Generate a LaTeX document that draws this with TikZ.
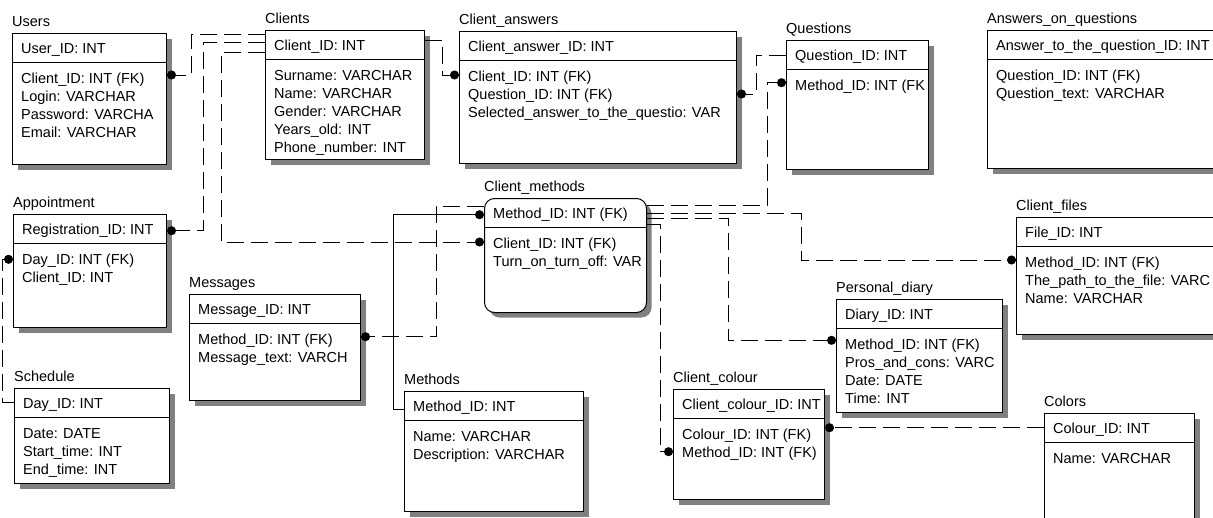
\documentclass[tikz,border=0pt]{standalone}
\usepackage{fontspec}
\setmainfont{Liberation Sans}
\usetikzlibrary{calc,arrows.meta,shadows}

\newcommand\erfont{\fontsize{14.5}{18}\selectfont}

\tikzset{
  ebox/.style={draw=black, line width=1pt, fill=white, inner sep=0pt, anchor=north west,
    general shadow={fill=black!50, shadow xshift=5pt, shadow yshift=-5pt}},
  eboxr/.style={ebox, rounded corners=10pt},
  etitle/.style={anchor=base west, inner sep=0pt, font=\erfont},
  erow/.style={anchor=base west, inner sep=0pt, font=\erfont},
  rel/.style={line width=0.9pt, dash pattern=on 17pt off 7pt},
  idrel/.style={line width=0.9pt},
  dot/.style={-{Circle[length=9pt,width=9pt]}},
}

% #1 box style, #2 node name, #3 entity title, #4,#5 top-left corner,
% #6,#7 bottom-right corner, #8 key attribute, #9 list of other attributes
\newcommand\erentity[9]{%
  \node[#1, minimum width={(#6)-(#4)}, minimum height={(#7)-(#5)}] (#2) at (#4,#5) {};
  \node[etitle] (#2-title) at (#4,#5-6.25) {#3};
  \draw[line width=1pt] ($(#2.north west)+(0,29.5)$) -- ($(#2.north east)+(0,29.5)$);
  \begin{scope}
    \clip (#4,#5) rectangle (#6-2,#7);
    \node[erow] (#2-key) at (#4+9,#5+20) {#8};
    \foreach \rowtext [count=\k] in {#9} {
      \node[erow] (#2-r\k) at (#4+9,#5+50.25+18*\k-18) {\rowtext};
    }
  \end{scope}
}

\begin{document}
\begin{tikzpicture}[x=1pt,y=-1pt]
\useasboundingbox (0,0) rectangle (1213,517);
\clip (0,0) rectangle (1213,517);

% entities
\erentity{ebox}{users}{Users}{12}{33}{166}{164}{User\_ID: INT}
  {Client\_ID: INT (FK), Login: VARCHAR, Password: VARCHA, Email: VARCHAR}
\erentity{ebox}{clients}{Clients}{265}{30}{424}{159}{Client\_ID: INT}
  {Surname: VARCHAR, Name: VARCHAR, Gender: VARCHAR, Years\_old: INT, Phone\_number: INT}
\erentity{ebox}{canswers}{Client\_answers}{459}{31}{736}{163}{Client\_answer\_ID: INT}
  {Client\_ID: INT (FK), Question\_ID: INT (FK), Selected\_answer\_to\_the\_questio: VAR}
\erentity{ebox}{questions}{Questions}{786}{40}{928}{169}{Question\_ID: INT}
  {Method\_ID: INT (FK}
\erentity{ebox}{answersq}{Answers\_on\_questions}{987}{30}{1225}{168}{Answer\_to\_the\_question\_ID: INT}
  {Question\_ID: INT (FK), Question\_text: VARCHAR}
\erentity{ebox}{appointment}{Appointment}{13}{214}{166}{327}{Registration\_ID: INT}
  {Day\_ID: INT (FK), Client\_ID: INT}
\erentity{ebox}{schedule}{Schedule}{14}{388}{169}{483}{Day\_ID: INT}
  {Date: DATE, Start\_time: INT, End\_time: INT}
\erentity{ebox}{messages}{Messages}{189}{294}{360}{400}{Message\_ID: INT}
  {Method\_ID: INT (FK), Message\_text: VARCH}
\erentity{ebox}{methods}{Methods}{404}{391}{583}{511}{Method\_ID: INT}
  {Name: VARCHAR, Description: VARCHAR}
\erentity{eboxr}{cmethods}{Client\_methods}{484}{198}{646}{312}{Method\_ID: INT (FK)}
  {Client\_ID: INT (FK), Turn\_on\_turn\_off: VAR}
\erentity{ebox}{ccolour}{Client\_colour}{673}{389}{824}{499}{Client\_colour\_ID: INT}
  {Colour\_ID: INT (FK), Method\_ID: INT (FK)}
\erentity{ebox}{pdiary}{Personal\_diary}{836}{299}{1002}{412}{Diary\_ID: INT}
  {Method\_ID: INT (FK), Pros\_and\_cons: VARC, Date: DATE, Time: INT}
\erentity{ebox}{cfiles}{Client\_files}{1016}{217}{1225}{334}{File\_ID: INT}
  {Method\_ID: INT (FK), The\_path\_to\_the\_file: VARC, Name: VARCHAR}
\erentity{ebox}{colors}{Colors}{1044}{413}{1194}{535}{Colour\_ID: INT}
  {Name: VARCHAR}

% relationships
\draw[rel,dot] ($(clients.north west)+(0,4)$) -- ++(-74,0) |- ($(users.north east)+(0,42)$);
\draw[rel,dot] ($(clients.north west)+(0,12)$) -- ++(-62,0) |- ($(appointment.north east)+(0,16.7)$);
\draw[rel,dot] ($(clients.north west)+(0,22)$) -- ++(-44,0) |- ($(cmethods.north west)+(0,44)$);
\draw[rel,dot] ($(clients.north east)+(0,10)$) -- ++(17,0) |- ($(canswers.north west)+(0,44)$);
\draw[rel,dot] ($(questions.north west)+(0,15)$) -- ++(-30,0) |- ($(canswers.north east)+(0,63)$);
\draw[rel,dot] ($(cmethods.north east)+(0,7)$) -- ++(120,0) |- ($(questions.north west)+(0,42.7)$);
\draw[rel,dot] ($(cmethods.north east)+(0,15)$) -- ++(154,0) |- ($(cfiles.north west)+(0,43)$);
\draw[rel,dot] ($(cmethods.north east)+(0,20)$) -- ++(81,0) |- ($(pdiary.north west)+(0,41.3)$);
\draw[rel,dot] ($(cmethods.north east)+(0,26.5)$) -- ++(13,0) |- ($(ccolour.north west)+(0,62.7)$);
\draw[rel,dot] ($(cmethods.north west)+(0,8)$) -- ++(-48,0) |- ($(messages.north east)+(0,42.7)$);
\draw[idrel,dot] ($(methods.north west)+(0,18)$) -- ++(-11,0) |- ($(cmethods.north west)+(0,16.7)$);
\draw[rel,dot] ($(colors.north west)+(0,14.7)$) -- ($(ccolour.north east)+(0,38.7)$);
\draw[rel,dot] ($(schedule.north west)+(0,14.5)$) -- ++(-12,0) |- ($(appointment.north west)+(0,45.3)$);
\end{tikzpicture}
\end{document}
